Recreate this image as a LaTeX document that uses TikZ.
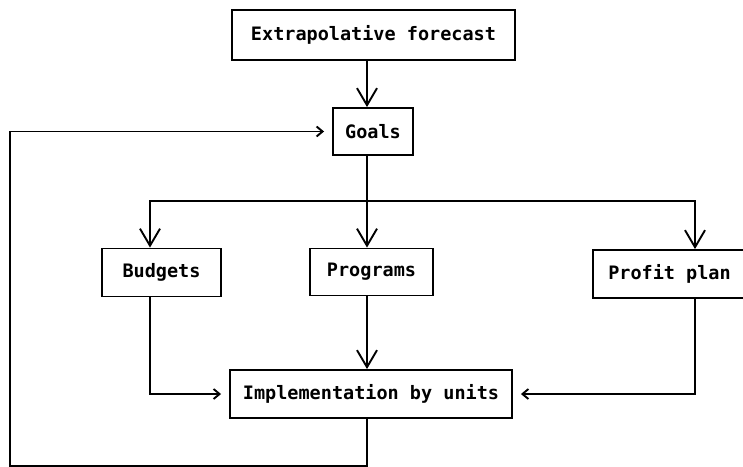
\documentclass[tikz,border=0pt]{standalone}
\usepackage{fontspec}
\setmonofont{DejaVu Sans Mono}
\usetikzlibrary{arrows.meta,calc}
\begin{document}
\begin{tikzpicture}[x=1pt,y=-1pt,
  box/.style={draw,line width=1.9pt,inner sep=0pt,anchor=center,
    font=\ttfamily\bfseries\fontsize{18.5}{20}\selectfont},
  flow/.style={line width=1.9pt},
  down/.style={flow,-{Straight Barb[length=17pt,width=20pt]}},
  side/.style={flow,-{Straight Barb[length=6pt,width=10pt]},shorten >=8pt}]
  \useasboundingbox (0,0) rectangle (743,466);

  % planning boxes
  \node[box,minimum width=283pt,minimum height=50pt] (forecast) at (373.5,35) {Extrapolative forecast};
  \node[box,minimum width=80pt,minimum height=47pt] (goals) at (373,131.5) {Goals};
  \node[box,minimum width=119pt,minimum height=48pt] (budgets) at (161.5,272.5) {Budgets};
  \node[box,minimum width=123pt,minimum height=47pt] (programs) at (371.5,272) {Programs};
  \node[box,minimum width=153pt,minimum height=48pt] (profit) at (669.5,274) {Profit plan};
  \node[box,minimum width=282pt,minimum height=48pt] (impl) at (371,394) {Implementation by units};

  % routing points
  \coordinate (sp) at (367,0);
  \coordinate (bx) at (150,201);
  \coordinate (px) at (695,201);
  \coordinate (lp) at (10,466);

  % forecast to goals, goals fanned out
  \draw[down] (sp |- forecast.south) -- (sp |- goals.north);
  \draw[down] (sp |- goals.south) -- (sp |- programs.north);
  \draw[down] (sp |- bx) -- (bx) -- (bx |- budgets.north);
  \draw[down] (sp |- bx) -- (px) -- (px |- profit.north);

  % plans into implementation
  \draw[down] (sp |- programs.south) -- (sp |- impl.north);
  \draw[side] (bx |- budgets.south) |- (impl.west);
  \draw[side] (px |- profit.south) |- (impl.east);

  % feedback loop back to goals
  \draw[side] (sp |- impl.south) -- (sp |- lp) -- (lp) -- (lp |- goals.west) -- (goals.west);
\end{tikzpicture}
\end{document}
